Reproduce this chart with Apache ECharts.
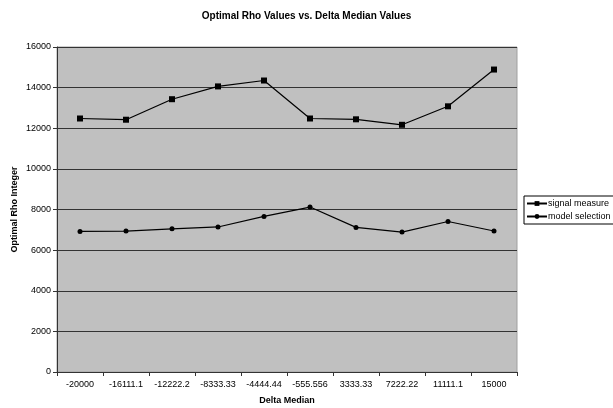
<!DOCTYPE html>
<html>
<head>
<meta charset="utf-8">
<script src="https://cdn.jsdelivr.net/npm/echarts@6/dist/echarts.min.js"></script>
<style>
  html, body { margin: 0; padding: 0; background: #fff; }
  #chart { width: 613px; height: 408px; }
</style>
</head>
<body>
<div id="chart"></div>
<script>
// Delta median categories along the x axis
const categories = ['-20000', '-16111.1', '-12222.2', '-8333.33', '-4444.44', '-555.556', '3333.33', '7222.22', '11111.1', '15000'];
// Optimal rho integer for each method
const signalMeasure = [12480, 12420, 13430, 14060, 14350, 12480, 12440, 12170, 13080, 14890];
const modelSelection = [6920, 6940, 7050, 7140, 7660, 8120, 7120, 6890, 7410, 6940];

const FONT = 'Liberation Sans, Arial, Helvetica, sans-serif';

const chart = echarts.init(document.getElementById('chart'), null, { renderer: 'canvas' });
chart.setOption({
  backgroundColor: '#ffffff',
  animation: false,
  title: {
    text: 'Optimal Rho Values vs. Delta Median Values',
    left: 'center',
    top: 6,
    textStyle: { fontFamily: FONT, fontSize: 10, fontWeight: 'bold', color: '#000' }
  },
  legend: {
    left: 524,
    top: 196,
    orient: 'vertical',
    itemWidth: 20,
    itemHeight: 6,
    itemGap: 4,
    padding: [3, 12, 3, 2],
    borderColor: '#000',
    borderWidth: 1,
    backgroundColor: '#fff',
    textStyle: { fontFamily: FONT, fontSize: 9, color: '#000', padding: [0, 0, 0, -4] },
    data: ['signal measure', 'model selection']
  },
  grid: {
    left: 57, right: 96, top: 47, bottom: 36,
    outerBoundsMode: 'none',
    containLabel: false,
    show: true, backgroundColor: '#c0c0c0', borderColor: '#a0a0a0', borderWidth: 1
  },
  xAxis: {
    type: 'category',
    data: categories,
    boundaryGap: true,
    name: 'Delta Median',
    nameLocation: 'middle',
    nameGap: 24,
    nameTextStyle: { fontFamily: FONT, fontSize: 9, fontWeight: 'bold', color: '#000' },
    axisLine: { lineStyle: { color: '#333', width: 1 } },
    axisTick: { show: true, length: 4, alignWithLabel: false, lineStyle: { color: '#333' } },
    axisLabel: { fontFamily: FONT, fontSize: 9, color: '#000', margin: 8, interval: 0 },
    splitLine: { show: false }
  },
  yAxis: {
    type: 'value',
    min: 0,
    max: 16000,
    interval: 2000,
    name: 'Optimal Rho Integer',
    nameLocation: 'middle',
    nameGap: 38,
    nameMoveOverlap: false,
    nameTextStyle: { fontFamily: FONT, fontSize: 9, fontWeight: 'bold', color: '#000' },
    axisLine: { show: true, lineStyle: { color: '#333', width: 1 } },
    axisTick: { show: true, length: 4, lineStyle: { color: '#333' } },
    axisLabel: { fontFamily: FONT, fontSize: 9, color: '#000', margin: 6, formatter: v => String(v) },
    splitLine: { show: true, lineStyle: { color: '#333', width: 1 } }
  },
  series: [
    {
      name: 'signal measure',
      type: 'line',
      data: signalMeasure,
      symbol: 'rect',
      symbolSize: 6,
      showAllSymbol: true,
      lineStyle: { color: '#000', width: 1.2 },
      itemStyle: { color: '#000' }
    },
    {
      name: 'model selection',
      type: 'line',
      data: modelSelection,
      symbol: 'circle',
      symbolSize: 5,
      showAllSymbol: true,
      lineStyle: { color: '#000', width: 1.2 },
      itemStyle: { color: '#000' }
    }
  ]
});
</script>
</body>
</html>
